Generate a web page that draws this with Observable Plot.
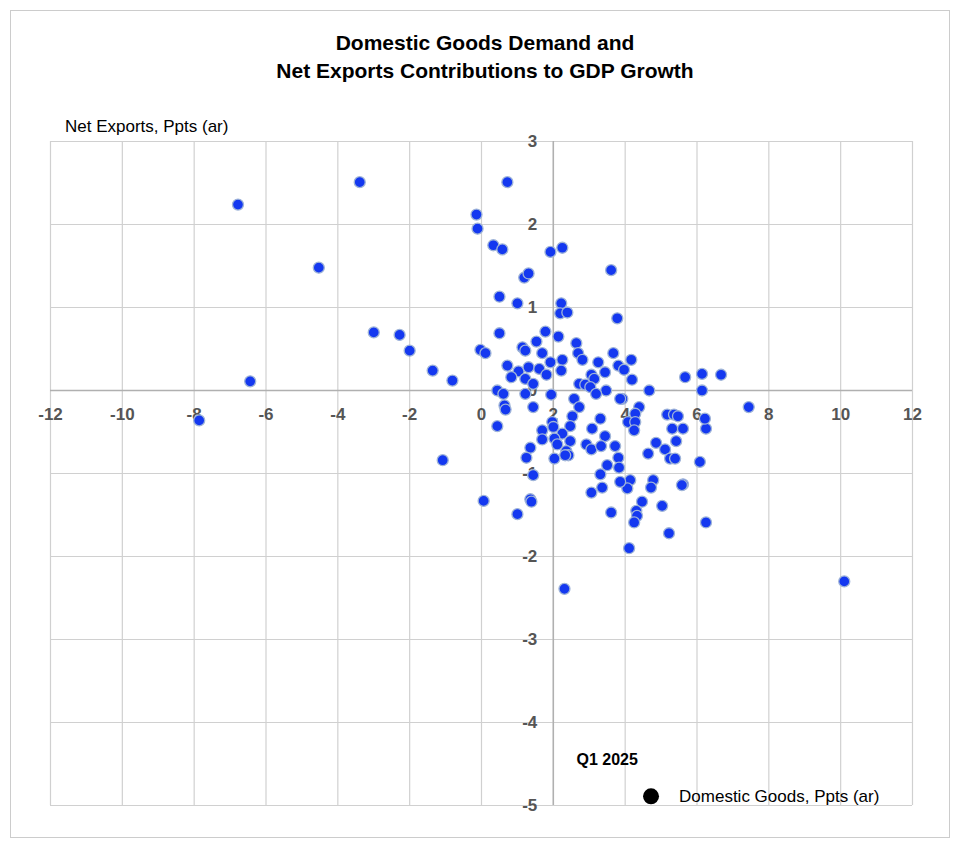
<!DOCTYPE html>
<html><head><meta charset="utf-8">
<script src="https://cdn.jsdelivr.net/npm/d3@7"></script>
<script src="https://cdn.jsdelivr.net/npm/@observablehq/plot@0.6"></script>
<style>
body{margin:0;font-family:"Liberation Sans",Arial,sans-serif;background:#fff}
#wrap{position:relative;width:970px;height:848px}
#frame{position:absolute;left:10px;top:10px;width:938px;height:826px;border:1px solid #ccc}
#title{position:absolute;left:0;width:970px;top:29px;text-align:center;font-weight:bold;font-size:21px;line-height:28px;color:#000}
#ylab{position:absolute;left:65px;top:117px;font-size:17px;color:#000}
#chart{position:absolute;left:0;top:0}
</style></head><body>
<div id="wrap"><div id="frame"></div><div id="chart"></div>
<div id="title">Domestic Goods Demand and<br>Net Exports Contributions to GDP Growth</div>
<div id="ylab">Net Exports, Ppts (ar)</div></div>
<script>
const domesticGoods=[-6.78,-3.39,-4.53,-7.86,-6.44,-3.0,-2.28,-2.0,-1.36,-0.81,-1.08,-0.14,-0.11,0.72,0.33,0.58,1.92,2.25,1.19,1.31,0.5,1.0,3.61,3.78,-0.03,0.11,0.06,1.0,1.36,2.31,4.11,10.1,7.44,6.67,6.14,5.67,6.14,6.25,6.25,5.22,5.61,6.08,
2.22,2.19,2.39,0.5,1.78,2.14,1.53,1.14,1.22,1.69,2.64,2.69,2.81,2.25,1.92,3.25,3.67,4.17,3.81,3.97,3.44,4.19,4.67,0.72,1.03,1.31,1.61,1.81,0.83,1.22,1.44,2.22,3.06,3.14,2.72,2.89,3.03,3.47,3.19,0.44,0.61,1.22,1.94,2.58,2.72,1.44,0.64,3.92,4.39,
3.86,0.67,0.44,2.53,2.47,1.97,2.0,2.25,1.69,1.69,2.03,2.11,2.47,2.36,2.42,2.33,2.03,1.36,1.25,1.44,3.31,3.08,3.44,2.92,3.06,3.33,3.72,3.81,3.83,3.5,3.31,3.36,3.06,4.28,4.08,4.28,4.25,5.17,5.36,5.47,5.31,5.61,6.22,4.86,5.11,5.42,4.64,5.25,5.39,4.14,4.06,4.78,4.72,5.58,4.47,4.31,4.33,4.25,5.03,3.61,3.86,1.39];
const netExports=[2.24,2.51,1.48,-0.36,0.11,0.70,0.67,0.48,0.24,0.12,-0.84,2.12,1.95,2.51,1.75,1.70,1.67,1.72,1.36,1.41,1.13,1.05,1.45,0.87,0.49,0.45,-1.33,-1.49,-1.31,-2.39,-1.90,-2.30,-0.20,0.19,0.20,0.16,0.0,-0.46,-1.59,-1.72,-1.13,-0.86,
1.05,0.93,0.94,0.69,0.71,0.65,0.59,0.52,0.48,0.45,0.57,0.45,0.37,0.37,0.34,0.34,0.45,0.37,0.30,0.25,0.22,0.13,0.0,0.30,0.23,0.28,0.26,0.19,0.16,0.14,0.08,0.24,0.19,0.14,0.08,0.07,0.04,0.0,-0.04,0.0,-0.04,-0.04,-0.05,-0.10,-0.20,-0.20,-0.18,-0.10,-0.20,
-0.10,-0.23,-0.43,-0.31,-0.43,-0.38,-0.44,-0.52,-0.48,-0.59,-0.58,-0.65,-0.61,-0.73,-0.78,-0.78,-0.82,-0.69,-0.81,-1.02,-0.34,-0.46,-0.55,-0.65,-0.71,-0.67,-0.67,-0.81,-0.93,-0.90,-1.01,-1.17,-1.23,-0.28,-0.38,-0.38,-0.48,-0.29,-0.29,-0.31,-0.46,-0.46,-0.34,-0.63,-0.71,-0.61,-0.76,-0.82,-0.82,-1.08,-1.18,-1.08,-1.17,-1.14,-1.34,-1.45,-1.51,-1.59,-1.39,-1.47,-1.10,-1.34];
const xTicks=[-12,-10,-8,-6,-4,-2,0,2,4,6,8,10,12];
const yTicks=[3,2,1,0,-1,-2,-3,-4,-5];
const q1=[{x:4.72,y:-4.89}];
const pts=domesticGoods.map((x,i)=>({x,y:netExports[i]}));
const gridC="#d0d0d0", lab="#555";
const p=Plot.plot({
  width:970,height:848,marginTop:141,marginBottom:43,marginLeft:50,marginRight:58,
  x:{domain:[-12,12],axis:null},y:{domain:[-5,3],axis:null},
  style:{fontFamily:"Liberation Sans, Arial, sans-serif"},
  marks:[
    Plot.ruleX(xTicks,{stroke:gridC,strokeWidth:1.2}),
    Plot.ruleY(yTicks,{stroke:gridC,strokeWidth:1.2}),
    Plot.ruleX([2],{stroke:"#b0b0b0",strokeWidth:1.5}),
    Plot.ruleY([0],{stroke:"#b0b0b0",strokeWidth:1.5}),
    Plot.text(xTicks,{x:d=>d,y:0,text:d=>String(d),dy:24,fontSize:17,fontWeight:"bold",fill:lab}),
    Plot.text(yTicks,{x:2,y:d=>d,text:d=>String(d),dx:-16,textAnchor:"end",fontSize:17,fontWeight:"bold",fill:lab}),
    Plot.dot(pts,{x:"x",y:"y",r:5.5,fill:"#1438f0",stroke:"#9fb4d8",strokeWidth:1.3}),
    Plot.dot(q1,{x:"x",y:"y",r:8,fill:"#000"}),
    Plot.text(["Q1 2025"],{x:3.5,y:-4.45,text:d=>d,fontSize:16,fontWeight:"bold",fill:"#000"}),
    Plot.text(["Domestic Goods, Ppts (ar)"],{x:5.5,y:-4.89,text:d=>d,textAnchor:"start",fontSize:17,fill:"#000"})
  ]
});
document.getElementById("chart").appendChild(p);
</script></body></html>
